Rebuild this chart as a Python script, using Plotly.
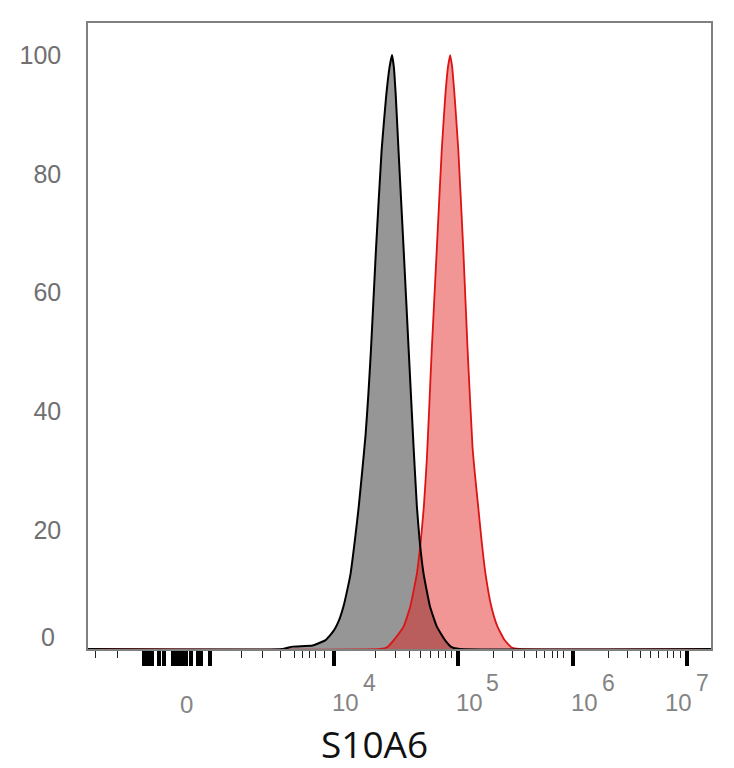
import plotly.graph_objects as go

# x is the display channel of the biexponential S10A6 axis (0-1000 across the plot)
# y is % of max count

iso_x = [0, 312.6, 328.5, 360.4, 381.2, 393.9, 403.5, 409.9, 416.3, 421.5, 428.5, 434.6,
         440.2, 445.5, 450.1, 454.2, 462.2, 471.3, 478.5, 484.1, 488.0, 490.9, 494.1,
         498.4, 506.7, 514.7, 522.6, 527.9, 532.2, 538.6, 549.1, 559.8, 573.0, 583.7,
         596.5, 1000]
iso_y = [0, 0, 0.4, 0.6, 1.5, 3, 5, 7.1, 10, 12.7, 18.4, 24,
         30, 36, 43, 50.4, 67.2, 84, 93, 98, 100, 98, 93,
         84, 67.2, 50.4, 34, 24, 18.4, 12.7, 7.1, 3.8, 1.5, 0.3,
         0, 0]

s10a6_x = [0, 468.9, 480.1, 490.8, 506.7, 517.2, 527.9, 534.3, 539.1, 543.9, 547.4, 551.8,
           559.8, 567.8, 573.4, 577.8, 581.3, 584.5, 588.5, 594.4, 602.4, 609.3, 617.2,
           620.9, 626.3, 631.6, 638.0, 647.5, 657.1, 668.7, 679.4, 692.2, 1000]
s10a6_y = [0, 0, 0.3, 1.5, 3.8, 7.1, 12.7, 18.4, 24, 32, 40, 50.4,
           67.2, 84, 93, 98, 100, 98, 93, 84, 67.2, 50.4, 34,
           29.6, 24, 18.4, 12.7, 7.1, 3.8, 1.5, 0.3, 0, 0]

# axis decoration (channel positions)
major_ticks = [89.3, 92.5, 97.3, 102.1, 113.2, 121.2, 137.2, 141.9, 146.7, 153.1, 157.9,
               165.9, 177.0, 181.8, 196.2, 395.1, 594.4, 777.8, 961.2]
minor_ticks = [12.3, 46.7, 245.6, 280.7, 309.4, 331.3, 344.7, 355.4, 365.9, 379.3,
               460.9, 492.8, 516.7, 534.3, 550.2, 563.0, 574.1, 583.7,
               650.2, 682.1, 700.1, 719.3, 732.0, 745.9, 753.9, 764.0,
               835.8, 865.6, 886.8, 902.8, 915.5, 929.4, 939.4, 950.6]
base_labels = ["0", "10", "10", "10", "10"]
base_label_x = [158.0, 413.1, 612.9, 796.3, 947.9]
exp_labels = ["4", "5", "6", "7"]
exp_label_x = [452.0, 649.7, 835.8, 985.9]
y_ticks = [20, 40, 60, 80, 100]

fig = go.Figure()
fig.add_trace(go.Scatter(x=iso_x, y=iso_y, mode='lines', fill='tozeroy',
                         fillcolor='rgb(150,150,150)',
                         line=dict(width=0, shape='spline', smoothing=0.4),
                         hoverinfo='skip'))
fig.add_trace(go.Scatter(x=s10a6_x, y=s10a6_y, mode='lines', fill='tozeroy',
                         fillcolor='rgba(225,30,30,0.47)',
                         line=dict(color='rgb(220,20,20)', width=1.8, shape='spline', smoothing=0.4)))
fig.add_trace(go.Scatter(x=iso_x, y=iso_y, mode='lines',
                         line=dict(color='black', width=2, shape='spline', smoothing=0.4)))

ann = []
for i in range(len(base_labels)):
    sh = -55 if base_labels[i] == "0" else -53
    ann.append(dict(x=base_label_x[i], xref='x', y=0, yref='paper', yshift=sh,
                    xanchor='center', yanchor='middle',
                    text=base_labels[i], showarrow=False,
                    font=dict(family='Liberation Sans', size=24, color='#848484')))
for i in range(len(exp_labels)):
    ann.append(dict(x=exp_label_x[i], xref='x', y=0, yref='paper', yshift=-34,
                    xanchor='center', yanchor='middle',
                    text=exp_labels[i], showarrow=False,
                    font=dict(family='Liberation Sans', size=23, color='#848484')))
# the zero of the count axis sits a little above the baseline
ann.append(dict(x=0, xref='paper', xanchor='right', xshift=-31, y=0, yref='y', yshift=12,
                yanchor='middle', text="0", showarrow=False,
                font=dict(family='Liberation Sans', size=25, color='#707070')))
ann.append(dict(x=0.46, xref='paper', y=0, yref='paper', yshift=-94,
                xanchor='center', yanchor='middle', text="S10A6",
                showarrow=False, font=dict(family='Open Sans', size=37, color='#111111')))

fig.update_layout(
    width=726, height=760,
    margin=dict(l=76, r=23, t=15, b=119),
    plot_bgcolor='white', paper_bgcolor='white',
    showlegend=False,
    annotations=ann,
    xaxis=dict(range=[0, 1000], showgrid=False, zeroline=False,
               showline=True, mirror=True, linecolor='#808080', linewidth=1.5,
               layer='below traces',
               tickmode='array', tickvals=major_ticks, showticklabels=False,
               ticks='outside', ticklen=15, tickwidth=3.5, tickcolor='black',
               minor=dict(tickmode='array', tickvals=minor_ticks, ticks='outside',
                          ticklen=7, tickwidth=1.3, tickcolor='#222222')),
    yaxis=dict(range=[0, 105.4], showgrid=False, zeroline=False,
               showline=True, mirror=True, linecolor='#808080', linewidth=1.5,
               tickmode='array', tickvals=y_ticks,
               ticks='outside', ticklen=20, tickcolor='rgba(0,0,0,0)',
               tickfont=dict(family='Liberation Sans', size=25, color='#707070')),
)

fig.write_html("out.html")
